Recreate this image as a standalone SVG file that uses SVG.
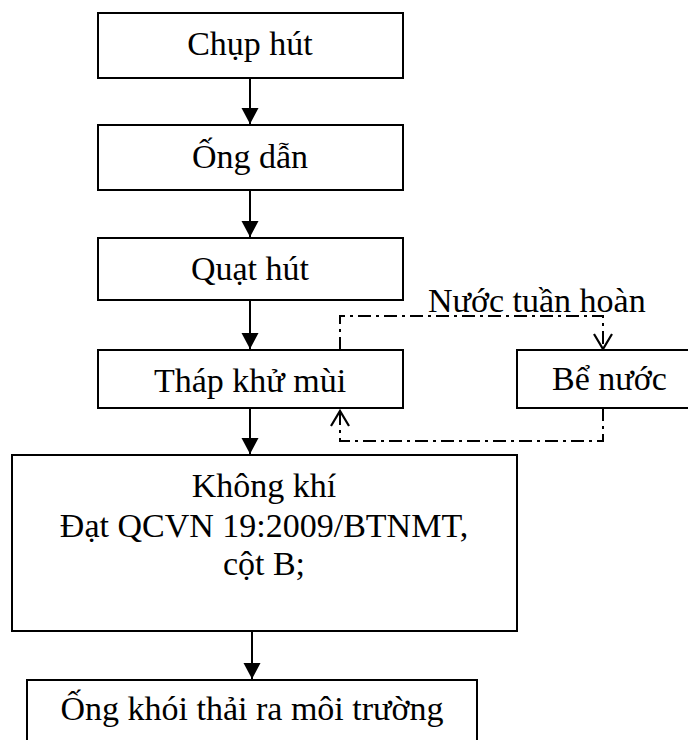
<svg xmlns="http://www.w3.org/2000/svg" width="688" height="740" viewBox="0 0 688 740">
<defs>
<style>
.box{fill:#fff;stroke:#000;stroke-width:2}
text{font-family:"Liberation Serif","DejaVu Serif",serif;font-size:34px;fill:#000}
.c{text-anchor:middle}
.flow{stroke:#000;stroke-width:2;fill:none}
.dd{stroke:#000;stroke-width:2;fill:none;stroke-dasharray:13 5 3 5}
.open{stroke:#000;stroke-width:2.2;fill:none}
</style>
<marker id="ah" markerWidth="18" markerHeight="18" viewBox="0 0 18 18" refX="16" refY="9" orient="auto" markerUnits="userSpaceOnUse">
<path d="M0,0.5 L16,9 L0,17.5 Z" fill="#000"/>
</marker>
</defs>
<rect width="688" height="740" fill="#fff"/>
<g id="connectors">
<line class="flow" x1="250" y1="78" x2="250" y2="124" marker-end="url(#ah)"/>
<line class="flow" x1="250" y1="190" x2="250" y2="237" marker-end="url(#ah)"/>
<line class="flow" x1="250" y1="300" x2="250" y2="349" marker-end="url(#ah)"/>
<line class="flow" x1="250" y1="408" x2="250" y2="454" marker-end="url(#ah)"/>
<line class="flow" x1="252" y1="631" x2="252" y2="679" marker-end="url(#ah)"/>
<path class="dd" d="M340,350 V316 H603 V349"/>
<path class="open" d="M594,334 L603,349 L612,334"/>
<path class="dd" d="M603,408 V441 H340 V410"/>
<path class="open" d="M331,426 L340,411 L349,426"/>
</g>
<g id="n1"><rect class="box" x="98" y="13" width="305" height="65"/><text font-family="Liberation Serif, DejaVu Serif, serif" class="c" x="250" y="55">Chụp hút</text></g>
<g id="n2"><rect class="box" x="98" y="125" width="305" height="65"/><text font-family="Liberation Serif, DejaVu Serif, serif" class="c" x="250" y="168">Ống dẫn</text></g>
<g id="n3"><rect class="box" x="98" y="238" width="305" height="62"/><text font-family="Liberation Serif, DejaVu Serif, serif" class="c" x="250" y="280">Quạt hút</text></g>
<g id="n4"><rect class="box" x="98" y="350" width="305" height="58"/><text font-family="Liberation Serif, DejaVu Serif, serif" class="c" x="250" y="392">Tháp khử mùi</text></g>
<g id="n5"><rect class="box" x="517" y="350" width="190" height="58"/><text font-family="Liberation Serif, DejaVu Serif, serif" x="552" y="390">Bể nước</text></g>
<g id="label"><text font-family="Liberation Serif, DejaVu Serif, serif" x="428" y="312">Nước tuần hoàn</text></g>
<g id="n6"><rect class="box" x="12" y="455" width="505" height="176"/>
<text font-family="Liberation Serif, DejaVu Serif, serif" class="c" x="264" y="497">Không khí</text>
<text font-family="Liberation Serif, DejaVu Serif, serif" class="c" x="264" y="537">Đạt QCVN 19:2009/BTNMT,</text>
<text font-family="Liberation Serif, DejaVu Serif, serif" class="c" x="264" y="575">cột B;</text></g>
<g id="n7"><rect class="box" x="27" y="680" width="450" height="80"/><text font-family="Liberation Serif, DejaVu Serif, serif" class="c" x="252" y="720">Ống khói thải ra môi trường</text></g>
</svg>
